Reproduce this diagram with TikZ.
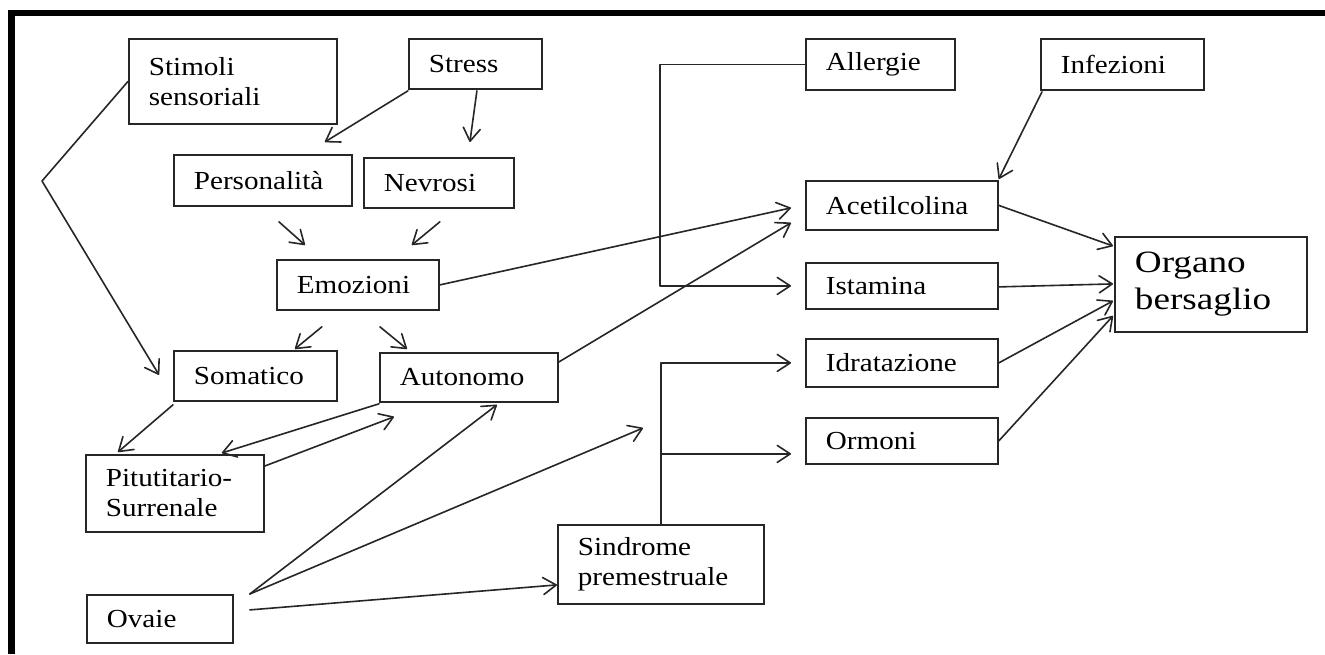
\documentclass[tikz,border=0pt]{standalone}
\usepackage{fontspec}
\setmainfont{Liberation Serif}[FakeStretch=1.12]
\newfontfamily\titlefont{Liberation Serif}[FakeStretch=1.2]
\usetikzlibrary{calc,arrows.meta}

\begin{document}
\begin{tikzpicture}[x=1pt,y=-1pt,
  box/.style={draw=black!85, line width=1.8pt, rectangle, anchor=north west,
    inner xsep=20pt, inner ysep=0pt, align=left,
    font=\fontsize{26}{30}\selectfont},
  link/.style={draw=black!85, line width=1.6pt, line cap=round, line join=round},
  arr/.style={link, -{Straight Barb[length=13pt,width=17pt,line cap=round,line join=round]}},
  frame/.style={line width=6.5pt, line join=miter}
]
\useasboundingbox (0,0) rectangle (1325,654);
\fill[white] (0,0) rectangle (1325,654);

% page frame: left and top rules only
\draw[frame] (11.5,654) -- (11.5,13) -- (1325,13);

% boxes
\node[box, text width=168pt, minimum height=85pt] (stim)   at (128,38)  {Stimoli\\sensoriali};
\node[box, text width=93pt,  minimum height=50pt] (stress) at (408,38)  {Stress};
\node[box, text width=138pt, minimum height=51pt] (pers)   at (173,154) {Personalità};
\node[box, text width=110pt, minimum height=50pt] (nevr)   at (363,157) {Nevrosi};
\node[box, text width=122pt, minimum height=50pt] (emoz)   at (276,259) {Emozioni};
\node[box, text width=123pt, minimum height=50pt] (soma)   at (173,350) {Somatico};
\node[box, text width=138pt, minimum height=49pt] (auto)   at (379,352) {Autonomo};
\node[box, text width=138pt, minimum height=77pt] (pitu)   at (85,454)  {Pitutitario-\\Surrenale};
\node[box, text width=106pt, minimum height=48pt] (ovaie)  at (86,594)  {Ovaie};
\node[box, text width=166pt, minimum height=79pt] (sind)   at (557,524) {Sindrome\\premestruale};
\node[box, text width=109pt, minimum height=51pt] (allerg) at (805,38)  {Allergie};
\node[box, text width=123pt, minimum height=51pt] (infez)  at (1040,38) {Infezioni};
\node[box, text width=152pt, minimum height=49pt] (acet)   at (805,180) {Acetilcolina};
\node[box, text width=152pt, minimum height=46pt] (istam)  at (805,262) {Istamina};
\node[box, text width=152pt, minimum height=48pt] (idrat)  at (805,338) {Idratazione};
\node[box, text width=152pt, minimum height=46pt] (ormoni) at (805,417) {Ormoni};
\node[box, text width=152pt, minimum height=95pt,
      font=\titlefont\fontsize{31}{37}\selectfont] (organo) at (1114,236) {Organo\\bersaglio};

% left column
\coordinate (bendL) at (42,181);
\draw[arr] (stim.west) -- (bendL) -- ($(soma.west)+(-14,-1)$);
\draw[arr] ($(stress.south west)+(0,1)$) -- ($(pers.north east)+(-28,-12)$);
\draw[arr] ($(stress.south)+(1.5,1)$) -- ($(nevr.north)+(31,-15)$);
\draw[arr] ($(pers.south)+(16,15)$) -- ($(emoz.north west)+(29,-14)$);
\draw[arr] ($(nevr.south)+(1,13)$) -- ($(emoz.north east)+(-28,-14)$);
\draw[arr] ($(emoz.south)+(-36,16)$) -- ($(soma.north)+(39.5,-1)$);
\draw[arr] ($(emoz.south)+(22,16)$) -- ($(auto.north west)+(28,-3)$);
\draw[arr] ($(soma.south west)+(0,3)$) -- ($(pitu.north west)+(33,-2)$);
\draw[arr] ($(auto.south west)+(0,1)$) -- ($(pitu.north east)+(-43,-1)$);
\draw[arr] ($(pitu.north east)+(0,12)$) -- ($(auto.south west)+(15,14)$);

% links towards the mediators
\draw[arr] (emoz.east) -- ($(acet.west)+(-14,2.5)$);
\draw[arr] ($(auto.north east)+(0,10)$) -- ($(acet.south west)+(-14,-8)$);

% ovaries
\coordinate (ovfork) at ($(ovaie.north east)+(16,0)$);
\coordinate (loose) at (643,428);
\draw[arr] (ovfork) -- ($(auto.south)+(28,2)$);
\draw[arr] (ovfork) -- (loose);
\draw[arr] ($(ovaie.east)+(16,-9)$) -- ($(sind.west)+(0,20.5)$);

% premenstrual syndrome branches
\coordinate (trunkI) at (sind.north |- idrat.west);
\coordinate (trunkO) at ($(sind.north |- ormoni.west)+(0,13)$);
\draw[arr] (sind.north) -- (trunkI) -- ($(idrat.west)+(-14,0)$);
\draw[arr] (trunkO) -- ($(ormoni.west)+(-14,13)$);

% allergies and infections
\draw[arr] (allerg.west) -- ++(-145,0) |- ($(istam.west)+(-14,0)$);
\draw[arr] ($(infez.south west)+(2,1)$) -- ($(acet.north east)+(0,-1)$);

% into the target organ
\draw[arr] (acet.east) -- ($(organo.north west)+(-1,10)$);
\draw[arr] ($(istam.east)+(0,1)$) -- ($(organo.west)+(-1,-0.5)$);
\draw[arr] (idrat.east) -- ($(organo.west)+(-1,16.5)$);
\draw[arr] (ormoni.east) -- ($(organo.west)+(-1,31.5)$);
\end{tikzpicture}
\end{document}
